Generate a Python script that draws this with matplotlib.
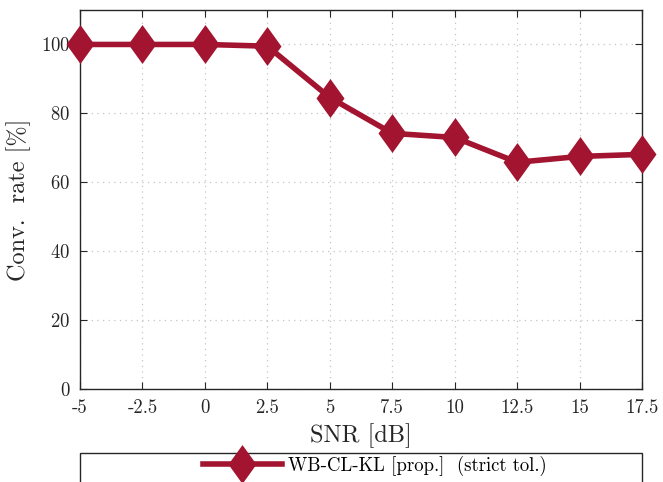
import numpy as np
import matplotlib.pyplot as plt
from matplotlib.path import Path
from matplotlib.patches import Rectangle

# %% Data
snr_db = [-5, -2.5, 0, 2.5, 5, 7.5, 10, 12.5, 15, 17.5]
conv_rate = [100.0, 100.0, 100.0, 99.5, 84.6, 74.2, 73.0, 65.8, 67.5, 68.1]
xtick_labels = ["-5", "-2.5", "0", "2.5", "5", "7.5", "10", "12.5", "15", "17.5"]
series_label = "WB-CL-KL [prop.]  (strict tol.)"

color = "#A2142F"

plt.rcParams["font.family"] = ["cmr10", "DejaVu Serif"]
plt.rcParams["mathtext.fontset"] = "cm"
plt.rcParams["axes.unicode_minus"] = False
plt.rcParams["axes.formatter.use_mathtext"] = True

# MATLAB style diamond (a bit narrower than tall)
diamond = Path([(0, 1), (0.72, 0), (0, -1), (-0.72, 0), (0, 1)],
               [Path.MOVETO, Path.LINETO, Path.LINETO, Path.LINETO, Path.CLOSEPOLY])

fig = plt.figure(figsize=(6.63, 4.82), dpi=100)
ax = fig.add_axes([80/663, 1 - 389/482, (642 - 80)/663, (389 - 10)/482])

line, = ax.plot(snr_db, conv_rate, color=color, lw=4.0, marker=diamond,
                markersize=28, markeredgewidth=0, label=series_label, clip_on=False,
                zorder=3)

ax.set_xlim(-5, 17.5)
ax.set_ylim(0, 110)
ax.set_xticks(snr_db)
ax.set_xticklabels(xtick_labels)
ax.set_yticks([0, 20, 40, 60, 80, 100])
ax.tick_params(direction="in", top=True, right=True, labelsize=13.5,
               length=5, width=0.8, colors="#262626", pad=7)
for sp in ax.spines.values():
    sp.set_linewidth(1.0)
    sp.set_color("#262626")
ax.grid(True, linestyle=(0, (1, 3.5)), color="#c4c4c4", linewidth=0.9)
ax.set_xlabel("SNR [dB]", fontsize=17.5, color="#262626", labelpad=5)
ax.set_ylabel("Conv.  rate [%]", fontsize=17.5, color="#262626", labelpad=7)

# legend box (cut off by the figure bottom, as in the reference)
fig.patches.append(Rectangle((80/663, -0.1), (642 - 80)/663, 0.1 + 1 - 453/482,
                             transform=fig.transFigure, fill=False,
                             edgecolor="#262626", linewidth=1.0))
fig.legend(handles=[line], loc="center", bbox_to_anchor=(375/663, 1 - 466/482),
           frameon=False, fontsize=13.5, handlelength=4.2, handletextpad=0.35,
           borderpad=0)

fig.savefig("out.png", dpi=100)
